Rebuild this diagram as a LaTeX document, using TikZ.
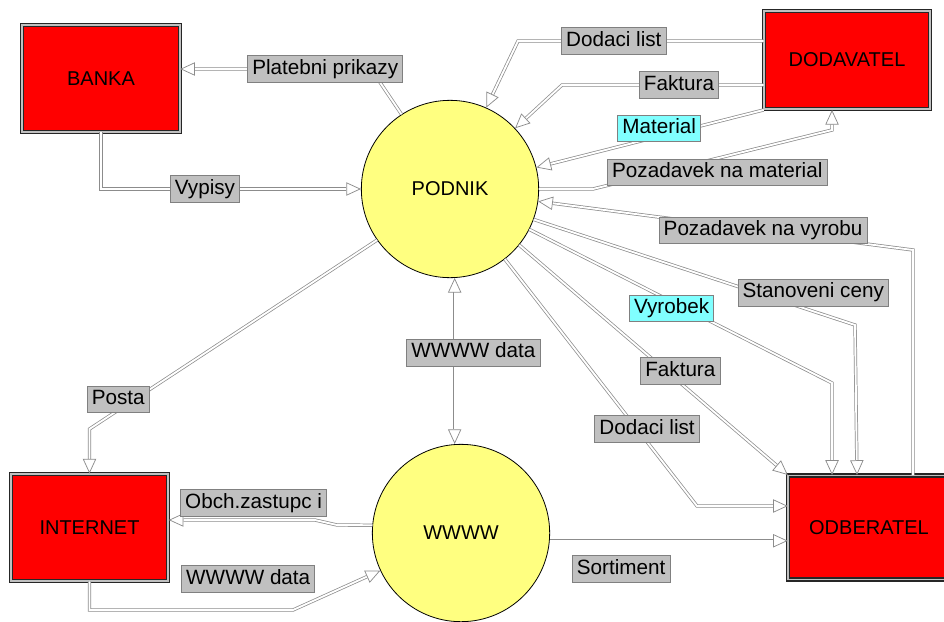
\documentclass[tikz,border=0pt]{standalone}
\usepackage{fontspec}
\setmainfont{Liberation Sans}
\usetikzlibrary{arrows.meta}
\definecolor{dfdred}{RGB}{255,0,0}
\definecolor{dfdyellow}{RGB}{255,255,128}
\definecolor{dfdgray}{RGB}{192,192,192}
\definecolor{dfdframe}{RGB}{128,128,128}
\definecolor{dfdcyan}{RGB}{128,255,255}
\definecolor{dfdline}{RGB}{140,140,140}
\tikzset{
  entity/.style={
    draw=black!85,
    double=dfdgray,
    double distance=1.4pt,
    line width=0.9pt,
    fill=dfdred,
    minimum width=118pt,
    minimum height=80pt,
    font=\fontsize{15}{18}\selectfont
  },
  process/.style={
    circle,
    draw=black,
    line width=0.6pt,
    fill=dfdyellow,
    minimum size=133pt,
    inner sep=0pt,
    font=\fontsize{15}{18}\selectfont
  },
  flowlabel/.style={
    draw=dfdframe,
    fill=dfdgray,
    line width=0.6pt,
    inner xsep=3.5pt,
    inner ysep=2.5pt,
    text height=11.5pt,
    text depth=3.5pt,
    font=\fontsize{15.5}{18}\selectfont
  },
  matlabel/.style={flowlabel, fill=dfdcyan},
  tip/.style={},
  flow/.style={
    draw=dfdline,
    line width=0.55pt,
    double=white,
    double distance=1.4pt,
    -{Triangle[fill=white, length=11pt, width=10pt]}
  },
  twoway/.style={
    flow,
    {Triangle[fill=white, length=11pt, width=10pt]}-{Triangle[fill=white, length=11pt, width=10pt]}
  }
}
\begin{document}
\begin{tikzpicture}[x=0.75pt, y=-0.75pt]
  \useasboundingbox (0,0) rectangle (944,621);

  \node[entity] (banka) at (101,78.5) {BANKA};
  \node[entity, minimum width=124pt, minimum height=74pt] (dodavatel) at (847,60) {DODAVATEL};
  \node[entity] (internet) at (89.5,527.5) {INTERNET};
  \node[entity, minimum width=121pt, minimum height=78pt] (odberatel) at (869,527.5) {ODBERATEL};
  \node[process] (podnik) at (450,189) {PODNIK};
  \node[process] (www) at (461,533) {WWWW};

  \draw[flow] (podnik.123) -- (371,69)
    -- node[flowlabel, pos=.24] (lPlatebni) {Platebni prikazy} (banka.east |- 0,69);
  \draw[flow] (banka.south) |- node[flowlabel, pos=.7] (lVypisy) {Vypisy} (podnik.west);
  \draw[flow] (dodavatel.west |- 0,41)
    -- node[flowlabel, pos=.61] (lDodaciA) {Dodaci list} (518,41) -- (podnik.66);
  \draw[flow] (dodavatel.west |- 0,85)
    -- node[flowlabel, pos=.42] (lFakturaA) {Faktura} (562,85) -- (podnik.43);
  \draw[flow] (dodavatel.south west)
    -- node[matlabel, pos=.46, yshift=6pt] (lMaterial) {Material} (podnik.14);
  \draw[flow] (podnik.east) -- (593,189)
    -- node[flowlabel, pos=.52, yshift=-10.5pt] (lPozMat) {Pozadavek na material} (832,130)
    -- (dodavatel.south -| 832,0);
  \draw[flow] (odberatel.north -| 913,0) -- (913,250)
    -- node[flowlabel, pos=.4] (lPozVyr) {Pozadavek na vyrobu} (podnik.-8);
  \draw[flow] (podnik.-20)
    -- node[flowlabel, pos=.87, yshift=14pt] (lCeny) {Stanoveni ceny} (855,325)
    -- (odberatel.north -| 857,0);
  \draw[flow] (podnik.-27)
    -- node[matlabel, pos=.47, yshift=-5pt] (lVyrobek) {Vyrobek} (832,383)
    -- (odberatel.north -| 832,0);
  \draw[flow] (podnik.-39)
    -- node[flowlabel, pos=.6, yshift=9pt] (lFakturaB) {Faktura} (odberatel.north west);
  \draw[flow] (podnik.-52)
    -- node[flowlabel, pos=.74, yshift=9.5pt] (lDodaciB) {Dodaci list} (697,506)
    -- (odberatel.west |- 0,506);
  \draw[twoway] (podnik.-87)
    -- node[flowlabel, pos=.45, xshift=14pt] (lDataA) {WWWW data} (podnik.-87 |- www.north);
  \draw[flow] (podnik.215)
    -- node[flowlabel, pos=.9, yshift=8pt] (lPosta) {Posta} (internet.north |- 0,429)
    -- (internet.north);
  \draw[flow] (www.175) -- (337,525) -- (315,520)
    -- node[flowlabel, pos=.42, above=2.5pt] (lObch) {Obch.zastupc i} (internet.east |- 0,520);
  \draw[flow] (internet.south) |- node[flowlabel, pos=.89, above=13pt] (lDataB) {WWWW data} (293,610)
    -- (www.205);
  \draw[flow] (www.-5)
    -- node[flowlabel, pos=.3, below=11pt] (lSortiment) {Sortiment} (www.-5 -| odberatel.west);
\end{tikzpicture}
\end{document}
